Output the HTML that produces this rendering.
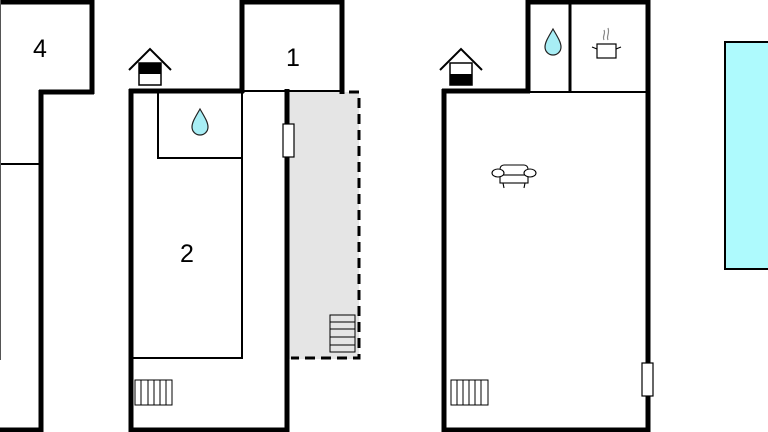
<!DOCTYPE html>
<html><head><style>html,body{margin:0;padding:0;background:#fff;width:768px;height:432px;overflow:hidden}</style></head>
<body>
<svg width="768" height="432" viewBox="0 0 768 432" xmlns="http://www.w3.org/2000/svg" font-family="Liberation Sans, sans-serif">
<!-- LEFT BUILDING -->
<line x1="0" y1="2" x2="94" y2="2" stroke="#000" stroke-width="5"/>
<line x1="92" y1="0" x2="92" y2="94" stroke="#000" stroke-width="5"/>
<line x1="39" y1="92" x2="94" y2="92" stroke="#000" stroke-width="5"/>
<line x1="41" y1="90" x2="41" y2="432" stroke="#000" stroke-width="5"/>
<line x1="0" y1="430" x2="43" y2="430" stroke="#000" stroke-width="5"/>
<line x1="0" y1="164" x2="40" y2="164" stroke="#000" stroke-width="2"/>
<line x1="0.5" y1="0" x2="0.5" y2="360" stroke="#555" stroke-width="1"/>
<text x="40" y="57" font-size="25" text-anchor="middle">4</text>

<!-- MIDDLE BUILDING -->
<rect x="289" y="92" width="70" height="267" fill="#e5e5e5"/>
<path d="M349 92 H359 V358 H291" fill="none" stroke="#000" stroke-width="3" stroke-dasharray="10,6"/>
<line x1="131" y1="89" x2="131" y2="432" stroke="#000" stroke-width="5"/>
<line x1="129" y1="91" x2="244" y2="91" stroke="#000" stroke-width="5"/>
<line x1="242" y1="0" x2="242" y2="93" stroke="#000" stroke-width="5"/>
<line x1="240" y1="2" x2="344" y2="2" stroke="#000" stroke-width="5"/>
<line x1="342" y1="0" x2="342" y2="94" stroke="#000" stroke-width="5"/>
<line x1="244" y1="91" x2="342" y2="91" stroke="#000" stroke-width="2"/>
<line x1="287" y1="89" x2="287" y2="432" stroke="#000" stroke-width="5"/>
<line x1="129" y1="430" x2="289" y2="430" stroke="#000" stroke-width="5"/>
<path d="M158 93 V158 H242" fill="none" stroke="#000" stroke-width="2"/>
<line x1="242" y1="93" x2="242" y2="359" stroke="#000" stroke-width="2"/>
<line x1="133" y1="358" x2="243" y2="358" stroke="#000" stroke-width="2"/>
<rect x="283" y="124" width="11" height="33" fill="#fff" stroke="#000" stroke-width="1.2"/>
<text x="187" y="262" font-size="25" text-anchor="middle">2</text>
<text x="293" y="66" font-size="25" text-anchor="middle">1</text>
<path d="M200 109 C196 116 192 122 192 127 A8 8 0 0 0 208 127 C208 122 204 116 200 109 Z" fill="#a8eef5" stroke="#222" stroke-width="1.2"/>
<!-- stairs terrace -->
<g stroke="#000" stroke-width="1" fill="none">
<rect x="330" y="315" width="25" height="37"/>
<line x1="330" y1="322" x2="355" y2="322"/><line x1="330" y1="329" x2="355" y2="329"/><line x1="330" y1="337" x2="355" y2="337"/><line x1="330" y1="345" x2="355" y2="345"/>
<rect x="135" y="380" width="37" height="25"/>
<line x1="141" y1="380" x2="141" y2="405"/><line x1="148" y1="380" x2="148" y2="405"/><line x1="154" y1="380" x2="154" y2="405"/><line x1="160" y1="380" x2="160" y2="405"/><line x1="166" y1="380" x2="166" y2="405"/>
<rect x="451" y="380" width="37" height="25"/>
<line x1="457" y1="380" x2="457" y2="405"/><line x1="463" y1="380" x2="463" y2="405"/><line x1="469" y1="380" x2="469" y2="405"/><line x1="475" y1="380" x2="475" y2="405"/><line x1="481" y1="380" x2="481" y2="405"/>
</g>
<!-- house icon middle -->
<path d="M129 70 L150 49 L171 70" fill="none" stroke="#000" stroke-width="2"/>
<rect x="139" y="63" width="22" height="22" fill="#fff" stroke="#000" stroke-width="1.5"/>
<rect x="139" y="63" width="22" height="11" fill="#000"/>

<!-- RIGHT BUILDING -->
<line x1="444" y1="89" x2="444" y2="432" stroke="#000" stroke-width="5"/>
<line x1="442" y1="91" x2="530" y2="91" stroke="#000" stroke-width="5"/>
<line x1="528" y1="0" x2="528" y2="93" stroke="#000" stroke-width="5"/>
<line x1="526" y1="2" x2="650" y2="2" stroke="#000" stroke-width="5"/>
<line x1="648" y1="0" x2="648" y2="432" stroke="#000" stroke-width="5"/>
<line x1="570" y1="2" x2="570" y2="92" stroke="#000" stroke-width="3"/>
<line x1="530" y1="92" x2="646" y2="92" stroke="#000" stroke-width="2"/>
<line x1="442" y1="430" x2="650" y2="430" stroke="#000" stroke-width="5"/>
<rect x="642" y="363" width="11" height="33" fill="#fff" stroke="#000" stroke-width="1.2"/>
<path d="M553 29 C549 36 545 42 545 47 A8 8 0 0 0 561 47 C561 42 557 36 553 29 Z" fill="#a8eef5" stroke="#222" stroke-width="1.2"/>
<!-- pot -->
<g stroke="#000" stroke-width="1.2" fill="none">
<rect x="597" y="44" width="19" height="14" fill="#fff"/>
<path d="M597 49 L592 47 M616 49 L621 47"/>
<path d="M604 40 C602 36 606 34 604 30 M608 40 C606 36 610 34 608 28" stroke="#888"/>
</g>
<!-- sofa -->
<g stroke="#000" stroke-width="1.1" fill="#fff">
<rect x="500" y="165" width="28" height="10" rx="4"/>
<rect x="500" y="175" width="28" height="8"/>
<ellipse cx="498" cy="173" rx="6" ry="4"/>
<ellipse cx="530" cy="173" rx="6" ry="4"/>
<path d="M503 183 L504 188 M525 183 L524 188" fill="none"/>
</g>
<!-- house icon right -->
<path d="M440 70 L461 49 L482 70" fill="none" stroke="#000" stroke-width="2"/>
<rect x="450" y="63" width="22" height="22" fill="#fff" stroke="#000" stroke-width="1.5"/>
<rect x="450" y="74" width="22" height="11" fill="#000"/>

<!-- POOL -->
<rect x="725" y="42" width="50" height="227" fill="#aefafd" stroke="#000" stroke-width="2"/>
</svg>
</body></html>
